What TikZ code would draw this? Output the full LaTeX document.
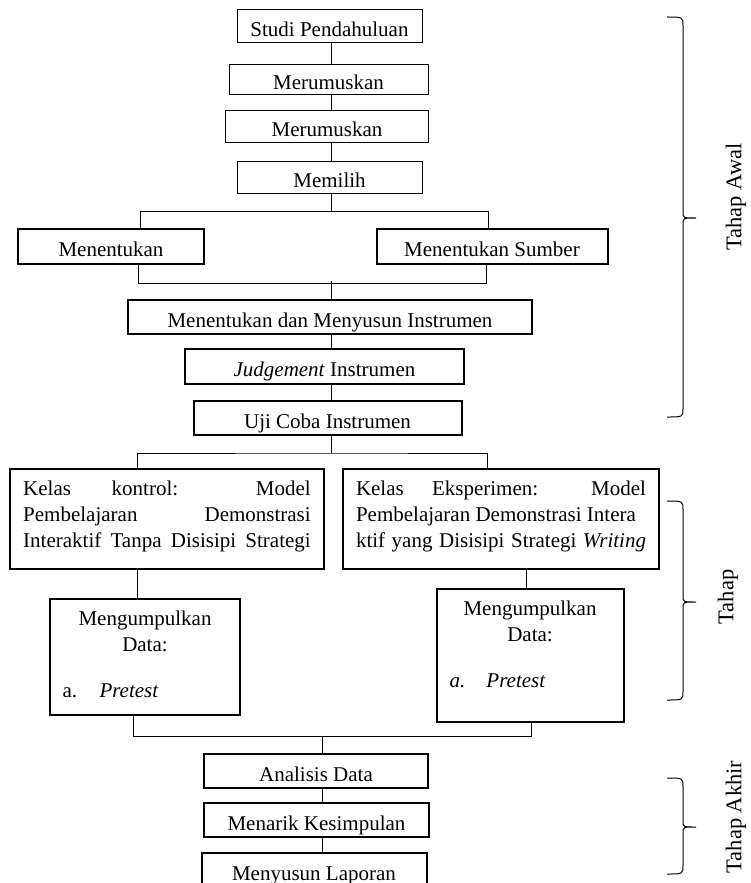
\documentclass[tikz,border=0pt]{standalone}
\usepackage{fontspec}
\setmainfont{Liberation Serif}

\begin{document}
\begin{tikzpicture}[
		x=1pt,
		y=-1pt,
		box/.style={draw, inner xsep=2pt, inner ysep=2pt, text height=20pt, text depth=0pt, font=\fontsize{21pt}{26pt}\selectfont},
		bigbox/.style={draw, line width=2pt, inner sep=0pt, font=\fontsize{21pt}{26pt}\selectfont},
		link/.style={line width=1pt},
	]
		\useasboundingbox (0,0) rectangle (750,883);
		
		\foreach \n/\x/\y/\w/\h/\lw/\txt in {
			studi/329.5/26.5/185/33/1/Studi Pendahuluan,
			rumus1/328.5/79.5/199/29/1/Merumuskan,
			rumus2/327/126/202.5/32/1/Merumuskan,
			memilih/329.5/177/185/32/1/Memilih,
			tentukan/111/246.5/186/35/2/Menentukan,
			sumber/492/246.5/231/35/2/Menentukan Sumber,
			instrumen/330/317/404/34/2/Menentukan dan Menyusun Instrumen,
			judgement/324.5/366.5/279/35/2/{\textit{Judgement} Instrumen},
			ujicoba/327.5/418/268/34/2/Uji Coba Instrumen,
			analisis/316/771/224/34/2/Analisis Data,
			menarik/316.5/820/225/34/2/Menarik Kesimpulan,
			laporan/314/870/225/34/2/Menyusun Laporan}{
			\node[box, line width=\lw, minimum width=\w, minimum height=\h] (\n) at (\x,\y) {\txt};
		}
		
		\node[bigbox, minimum width=314] (kontrol) at (167,519) {\parbox[c][100pt][t]{287.5pt}{\vspace*{11.7pt}%
			\makebox[\linewidth][s]{Kelas kontrol: Model}\\
			\makebox[\linewidth][s]{Pembelajaran Demonstrasi}\\
			\makebox[\linewidth][s]{Interaktif Tanpa Disisipi Strategi}}};
		\node[bigbox, minimum width=316] (eksperimen) at (501,519) {\parbox[c][100pt][t]{290pt}{\vspace*{11.7pt}%
			\makebox[\linewidth][s]{Kelas Eksperimen: Model}\\
			Pembelajaran Demonstrasi Intera\\
			\makebox[\linewidth][s]{ktif yang Disisipi Strategi \textit{Writing}}}};
		
		\node[bigbox, minimum width=190] (dataA) at (145,657) {\parbox[c][116pt][t]{165pt}{\centering\vspace*{11.7pt}%
			Mengumpulkan\\Data:\\[20pt]
			\makebox[\linewidth][l]{\makebox[37pt][l]{a.}\textit{Pretest}}}};
		\node[bigbox, minimum width=187] (dataB) at (530,655.5) {\parbox[c][133pt][t]{161pt}{\centering\vspace*{11.7pt}%
			Mengumpulkan\\Data:\\[20pt]
			\makebox[\linewidth][l]{\makebox[37pt][l]{\textit{a.}}\textit{Pretest}}}};
		
		% connectors
		\coordinate (spine) at (331,0);
		\coordinate (spine2) at (322.5,0);
		\draw[link] (spine |- studi.south) -- (spine |- rumus1.north);
		\draw[link] (spine |- rumus1.south) -- (spine |- rumus2.north);
		\draw[link] (spine |- rumus2.south) -- (spine |- memilih.north);
		\draw[link] (spine |- memilih.south) -- ++(0,18) coordinate (split1);
		\draw[link] ([xshift=29pt]tentukan.north) |- (split1) -| ([xshift=-4pt]sumber.north);
		\draw[link] ([xshift=27pt]tentukan.south) -- ++(0,18) -| ([xshift=-6pt]sumber.south);
		\draw[link] (spine |- instrumen.north) -- ++(0,-18);
		\draw[link] (spine |- instrumen.south) -- (spine |- judgement.north);
		\draw[link] (spine |- judgement.south) -- (spine |- ujicoba.north);
		\draw[link] (spine |- ujicoba.south) -- ++(0,17) coordinate (split2);
		\draw[link] ([xshift=-30pt]kontrol.north) |- (split2) -| ([xshift=-14pt]eksperimen.north);
		\draw[link] ([xshift=-30pt]kontrol.south) -- ([xshift=-30pt]kontrol.south |- dataA.north);
		\draw[link] ([xshift=25pt]eksperimen.south) -- ([xshift=25pt]eksperimen.south |- dataB.north);
		\draw[link] ([xshift=-11.5pt]dataA.south) -- ++(0,20) coordinate (join2) -| ([xshift=1pt]dataB.south);
		\draw[link] (spine2 |- join2) -- (spine2 |- analisis.north);
		\draw[link] (spine2 |- analisis.south) -- (spine2 |- menarik.north);
		\draw[link] (spine2 |- menarik.south) -- (spine2 |- laporan.north);
		
		% stages
		\foreach \ya/\ym/\yb/\lx/\ly/\lab [count=\i] in {17/218/417/736/197/Tahap Awal, 501/602/700/728/597/Tahap, 778/827/874/736/817/Tahap Akhir}{
			\draw[line width=1pt] (667,\ya) .. controls (683,\ya) .. (683,\ya+9) -- (683,\ym-6)
				.. controls (683,\ym) .. (696,\ym) .. controls (683,\ym) .. (683,\ym+6)
				-- (683,\yb-9) .. controls (683,\yb) .. (667,\yb);
			\node[rotate=90, font=\fontsize{22.5pt}{26pt}\selectfont] (tahap\i) at (\lx,\ly) {\lab};
		}
	\end{tikzpicture}
\end{document}
